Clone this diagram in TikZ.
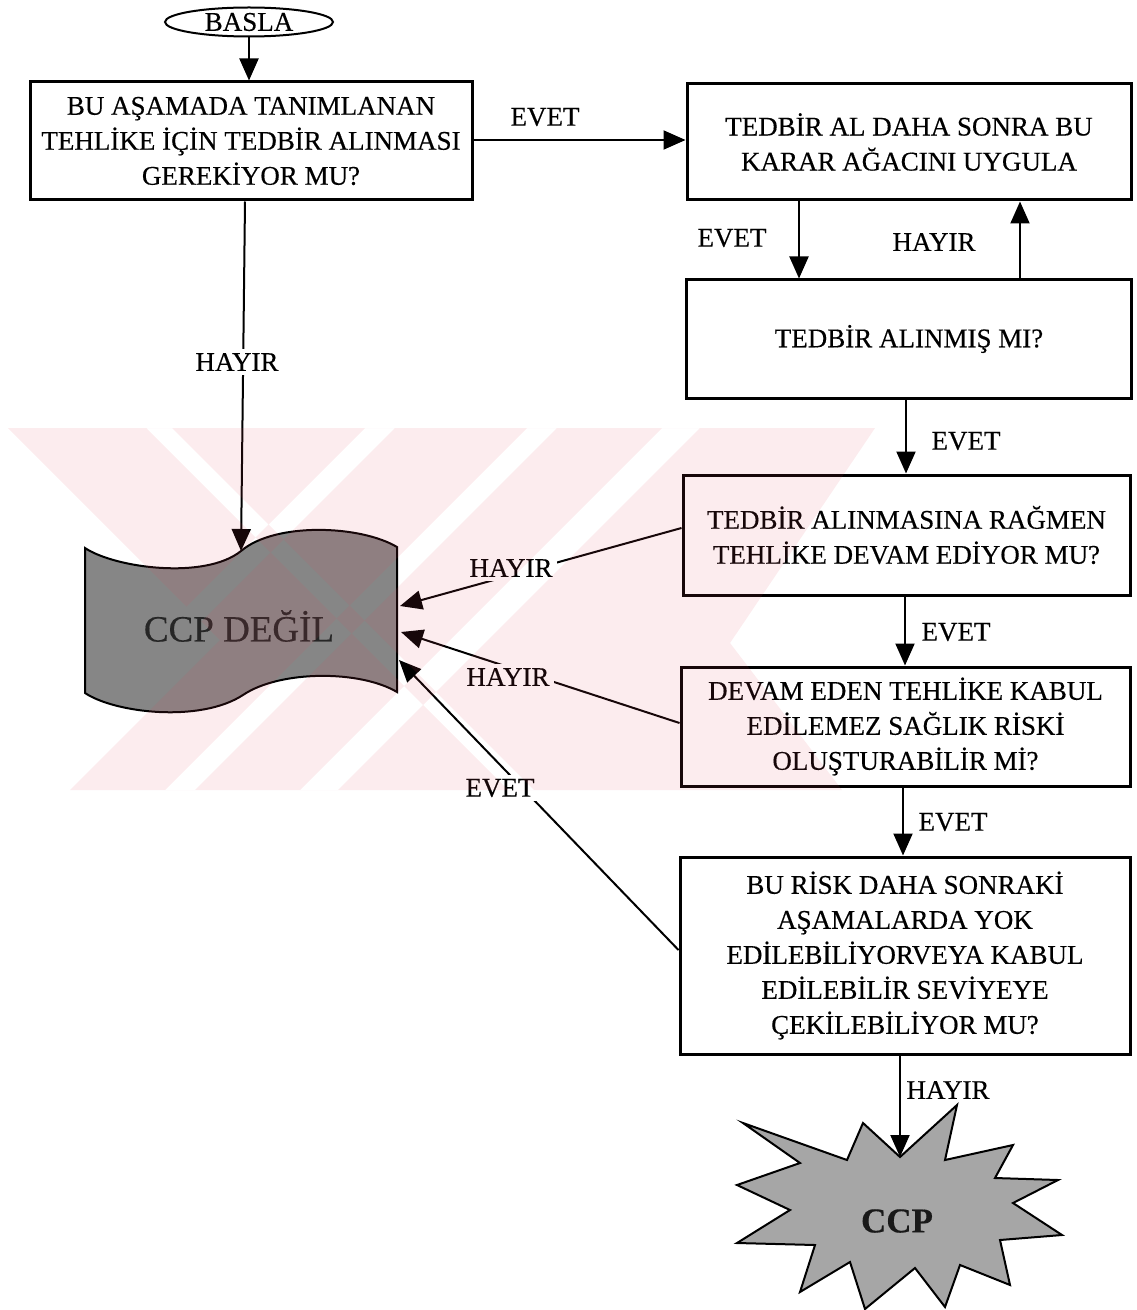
\documentclass[tikz,border=0pt]{standalone}
\usepackage{fontspec}
\setmainfont{Liberation Serif}[FakeBold=0.35]
\usetikzlibrary{arrows.meta,shapes.geometric}
\definecolor{flaggray}{RGB}{134,134,134}
\definecolor{stargray}{RGB}{166,166,166}
\definecolor{wmred}{RGB}{232,70,90}
\begin{document}
\begin{tikzpicture}[x=0.5pt,y=-0.5pt,
  box/.style={draw=black, line width=1.5pt, align=center, inner sep=0pt,
              font=\fontsize{13.5}{17.5}\selectfont},
  lbl/.style={font=\fontsize{13.5}{16}\selectfont, inner sep=2pt},
  cut/.style={lbl, fill=white},
  arr/.style={line width=1pt, -{Triangle[length=11pt,width=9.5pt]}}]
\useasboundingbox (0,0) rectangle (1136,1310);
\fill[white] (0,0) rectangle (1136,1310);

% start terminal
\node[draw, line width=1pt, ellipse, minimum width=84pt, minimum height=14.5pt,
      inner sep=0pt, font=\fontsize{13.5}{16}\selectfont] (start) at (249,22) {BASLA};

% decision boxes
\node[box, minimum width=221pt, minimum height=59pt] (b1) at (251,141)
  {BU AŞAMADA TANIMLANAN\\TEHLİKE İÇİN TEDBİR ALINMASI\\GEREKİYOR MU?};
\node[box, minimum width=222pt, minimum height=58pt] (b2) at (909,142)
  {TEDBİR AL DAHA SONRA BU\\KARAR AĞACINI UYGULA};
\node[box, minimum width=222.5pt, minimum height=59pt] (b3) at (909,339)
  {TEDBİR ALINMIŞ MI?};
\node[box, minimum width=223.5pt, minimum height=60pt] (b4) at (906.5,535)
  {TEDBİR ALINMASINA RAĞMEN\\TEHLİKE DEVAM EDİYOR MU?};
\node[box, minimum width=224.5pt, minimum height=59.5pt] (b5) at (905.5,726.5)
  {DEVAM EDEN TEHLİKE KABUL\\EDİLEMEZ SAĞLIK RİSKİ\\OLUŞTURABİLİR Mİ?};
\node[box, minimum width=225pt, minimum height=98.5pt] (b6) at (905,955.5)
  {BU RİSK DAHA SONRAKİ\\AŞAMALARDA YOK\\EDİLEBİLİYORVEYA KABUL\\EDİLEBİLİR SEVİYEYE\\ÇEKİLEBİLİYOR MU?};

% "not a CCP" wavy banner
\draw[line width=1pt, fill=flaggray]
  (85,548) .. controls (115,568) and (205,580) .. (241,551)
  .. controls (275,522) and (360,525) .. (397,547)
  -- (397,692)
  .. controls (360,670) and (280,670) .. (243,695)
  .. controls (200,723) and (115,713) .. (85,693) -- cycle;
\node[text=black!85, font=\fontsize{18.5}{20}\selectfont] (flag) at (239,626) {CCP DEĞİL};
\coordinate (flagTop) at (241,551);
\coordinate (flagR1) at (400,606);
\coordinate (flagR2) at (401,632);
\coordinate (flagR3) at (399,660);

% "CCP" burst
\draw[line width=1pt, fill=stargray]
  (743,1123) -- (847,1160) -- (863,1123) -- (900,1157) -- (957,1105) -- (945,1160)
  -- (1013,1145) -- (995,1178) -- (1058,1180) -- (1013,1203) -- (1062,1235)
  -- (1000,1240) -- (1010,1285) -- (960,1265) -- (945,1307) -- (915,1268)
  -- (865,1309) -- (850,1262) -- (800,1292) -- (815,1245) -- (737,1243)
  -- (790,1210) -- (737,1185) -- (800,1163) -- cycle;
\coordinate (starTop) at (900,1157);
\node[font=\bfseries\fontsize{17.5}{20}\selectfont, text=black!90] (ccp) at (897,1221) {CCP};

% connectors
\draw[arr] (start.south) -- (start.south |- b1.north);
\draw[arr] (b1.east |- 0,140) -- (b2.west |- 0,140);
\draw[arr] (b2.south -| 799,0) -- (b3.north -| 799,0);
\draw[arr] (b3.north -| 1020,0) -- (b2.south -| 1020,0);
\draw[arr] (b3.south -| 906,0) -- (b4.north -| 906,0);
\draw[arr] (b4.south -| 905,0) -- (b5.north -| 905,0);
\draw[arr] (b5.south -| 903,0) -- (b6.north -| 903,0);
\draw[arr] (b6.south -| 900,0) -- (starTop);
\draw[arr] (b1.south -| 245,0) -- (flagTop);
\draw[arr] (b4.west |- 0,528) -- (flagR1);
\draw[arr] (b5.west |- 0,723) -- (flagR2);
\draw[arr] (b6.west |- 0,950) -- (flagR3);

% answer labels
\node[lbl] (e1) at (545,117) {EVET};
\node[lbl] (e2) at (732,238) {EVET};
\node[lbl] (h1) at (934,242) {HAYIR};
\node[cut] (h0) at (237,362) {HAYIR};
\node[lbl] (e3) at (966,441) {EVET};
\node[cut] (h2) at (511,568) {HAYIR};
\node[lbl] (e4) at (956,632) {EVET};
\node[cut] (h3) at (508,677) {HAYIR};
\node[cut] (e5) at (500,788) {EVET};
\node[lbl] (e6) at (953,822) {EVET};
\node[lbl] (h4) at (948,1090) {HAYIR};

% faint striped emblem across the middle of the page
\begin{scope}
  \clip (8,428) -- (875,428) -- (730,643) -- (842,790) -- (70,790)
        -- (220,640) -- cycle;
  \fill[wmred, fill opacity=0.10, even odd rule]
    (0,420) rectangle (900,800)
    (146,428) -- (172,428) -- (534,790) -- (508,790) -- cycle
    (365,428) -- (395,428) -- (33,790) -- (3,790) -- cycle
    (527,428) -- (557,428) -- (195,790) -- (165,790) -- cycle
    (662,428) -- (700,428) -- (338,790) -- (300,790) -- cycle;
\end{scope}
\end{tikzpicture}
\end{document}
